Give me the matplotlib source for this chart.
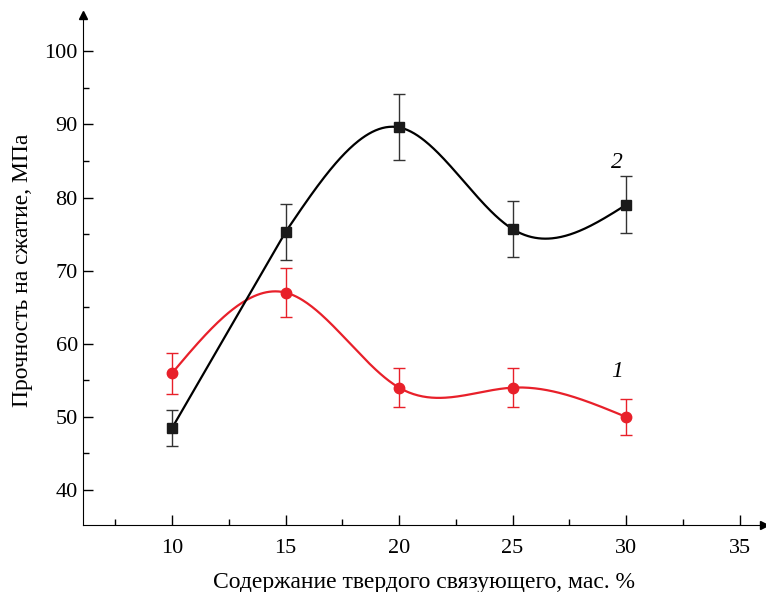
import numpy as np
import matplotlib
matplotlib.use("Agg")
import matplotlib.pyplot as plt

plt.rcParams['font.family'] = ['Liberation Serif', 'DejaVu Serif']

x = [10, 15, 20, 25, 30]
s1 = [56.0, 67.0, 54.0, 54.0, 50.0]
e1 = [2.8, 3.4, 2.7, 2.7, 2.5]
s2 = [48.5, 75.3, 89.6, 75.7, 79.0]
e2 = [2.5, 3.8, 4.5, 3.8, 3.9]

def spline(xs, ys, n=300):
    xs = np.asarray(xs, float); ys = np.asarray(ys, float)
    m = len(xs); h = np.diff(xs)
    A = np.zeros((m, m)); b = np.zeros(m)
    A[0, 0] = A[-1, -1] = 1
    for i in range(1, m - 1):
        A[i, i-1] = h[i-1]; A[i, i] = 2*(h[i-1]+h[i]); A[i, i+1] = h[i]
        b[i] = 6*((ys[i+1]-ys[i])/h[i] - (ys[i]-ys[i-1])/h[i-1])
    M = np.linalg.solve(A, b)
    xx = np.linspace(xs[0], xs[-1], n); yy = np.empty_like(xx)
    for k, t in enumerate(xx):
        i = min(np.searchsorted(xs, t) - 1, m - 2); i = max(i, 0)
        a = xs[i+1]-t; c = t-xs[i]
        yy[k] = (M[i]*a**3 + M[i+1]*c**3)/(6*h[i]) + (ys[i]/h[i]-M[i]*h[i]/6)*a + (ys[i+1]/h[i]-M[i+1]*h[i]/6)*c
    return xx, yy

fig = plt.figure(figsize=(7.66, 5.92), dpi=100)
ax = fig.add_axes([0.108, 0.113, 0.89, 0.862])
ax.set_xlim(6.06, 36.1)
ax.set_ylim(35.2, 105)

xx, yy = spline(x, s1)
ax.plot(xx, yy, color='#e8202a', lw=1.6)
ax.errorbar(x, s1, yerr=e1, fmt='o', color='#e8202a', ms=7.5, capsize=4, elinewidth=1, capthick=1)

xx2, yy2 = spline(x[1:], s2[1:])
ax.plot([x[0], x[1]], [s2[0], s2[1]], color='black', lw=1.6)
ax.plot(xx2, yy2, color='black', lw=1.6)
ax.errorbar(x, s2, yerr=e2, fmt='s', color='#1a1a1a', ms=7, capsize=4, elinewidth=1, capthick=1, ecolor='#333333')

ax.text(29.6, 84.8, '2', fontsize=17, style='italic', ha='center', va='center')
ax.text(29.6, 56.2, '1', fontsize=17, style='italic', ha='center', va='center')

for s in ['top', 'right']:
    ax.spines[s].set_visible(False)
ax.plot(1, 0, '>k', ms=6, transform=ax.transAxes, clip_on=False)
ax.plot(0, 1, '^k', ms=6, transform=ax.transAxes, clip_on=False)

ax.set_xticks([10, 15, 20, 25, 30, 35])
ax.set_xticks([7.5, 12.5, 17.5, 22.5, 27.5, 32.5], minor=True)
ax.set_yticks([40, 50, 60, 70, 80, 90, 100])
ax.set_yticks([45, 55, 65, 75, 85, 95], minor=True)
ax.tick_params(direction='in', labelsize=16, length=7, width=1)
ax.tick_params(which='minor', direction='in', length=4, width=1)
ax.tick_params(axis='x', pad=10)
ax.set_xlabel('Содержание твердого связующего, мас. %', fontsize=17, labelpad=10)
ax.set_ylabel('Прочность на сжатие, МПа', fontsize=17, labelpad=8)
fig.savefig('out.png', dpi=100)
